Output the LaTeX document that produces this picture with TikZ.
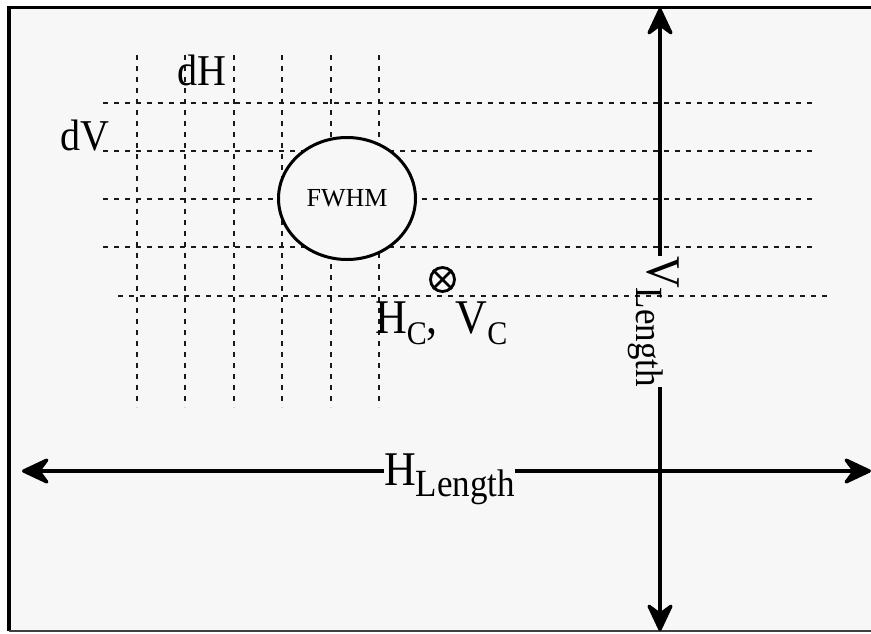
\documentclass[tikz,border=0pt]{standalone}
\usepackage{fontspec}
\setmainfont{Liberation Serif}
\usetikzlibrary{arrows.meta,shapes.geometric}
\definecolor{bg}{HTML}{F7F7F7}
\newcommand{\tallbox}[1]{\scalebox{1}[1.1]{#1}}
\begin{document}
\begin{tikzpicture}[x=1pt,y=-1pt,
  grid/.style={line width=1.2pt,dash pattern=on 5pt off 6pt,color=black!90},
  arr/.style={line width=3.3pt,-{Stealth[length=32pt,width=30pt,inset=11pt,round]}},
  big/.style={inner sep=0pt,font=\fontsize{44}{44}\selectfont},
  mid/.style={inner sep=0pt,font=\fontsize{40}{40}\selectfont}]
\useasboundingbox (0,0) rectangle (871,633);
\fill[white] (0,0) rectangle (871,633);
\fill[bg] (9,7) rectangle (871,631);
\draw[line width=3pt] (9,7) -- (871,7);
\draw[line width=4pt] (9,5.5) -- (9,631);
\draw[line width=1.5pt,black!75] (9,631) -- (871,631);
% grid
\foreach \y in {103,151,199,247}
  \draw[grid] (103,\y) -- (815,\y);
\draw[grid] (118,296) -- (830,296);
\foreach \x in {137,185,234,282,331,379}
  \draw[grid] (\x,55) -- (\x,407);
% FWHM ellipse
\node[draw,fill=bg,ellipse,line width=3pt,minimum width=137pt,minimum height=122pt,inner sep=0pt,
  font=\fontsize{26}{26}\selectfont] (fwhm) at (347,198.5) {FWHM};
% labels
\node[mid,anchor=base west] (dh) at (177,85) {\tallbox{dH}};
\node[mid,anchor=base west] (dv) at (60,150) {\tallbox{dV}};
% center mark
\node[draw,circle,line width=2.8pt,minimum size=24pt,inner sep=0pt] (ctr) at (442.5,279.5) {};
\draw[line width=2.8pt] (ctr.45) -- (ctr.225) (ctr.135) -- (ctr.315);
\node[big,anchor=base west] (hcvc) at (375,333)
  {\tallbox{H\raisebox{-10pt}{\fontsize{30}{30}\selectfont C},\hspace{0.4em}V\raisebox{-10pt}{\fontsize{30}{30}\selectfont C}}};
% length arrows
\coordinate (hL) at (22,471);
\coordinate (hR) at (871,471);
\coordinate (vT) at (660,8);
\coordinate (vB) at (660,631);
\node[big,anchor=base west] (hlen) at (384,485)
  {\tallbox{H\raisebox{-10pt}{\fontsize{35}{35}\selectfont Length}}};
\node[big,anchor=base west,rotate=-90] (vlen) at (647,256)
  {\tallbox{V\raisebox{-10pt}{\fontsize{35}{35}\selectfont Length}}};
\draw[arr] (hlen.west |- hL) -- (hL);
\draw[arr] (hlen.east |- hR) -- (hR);
\draw[arr] (vT |- vlen.west) -- (vT);
\draw[arr] (vB |- vlen.east) -- (vB);
\end{tikzpicture}
\end{document}
